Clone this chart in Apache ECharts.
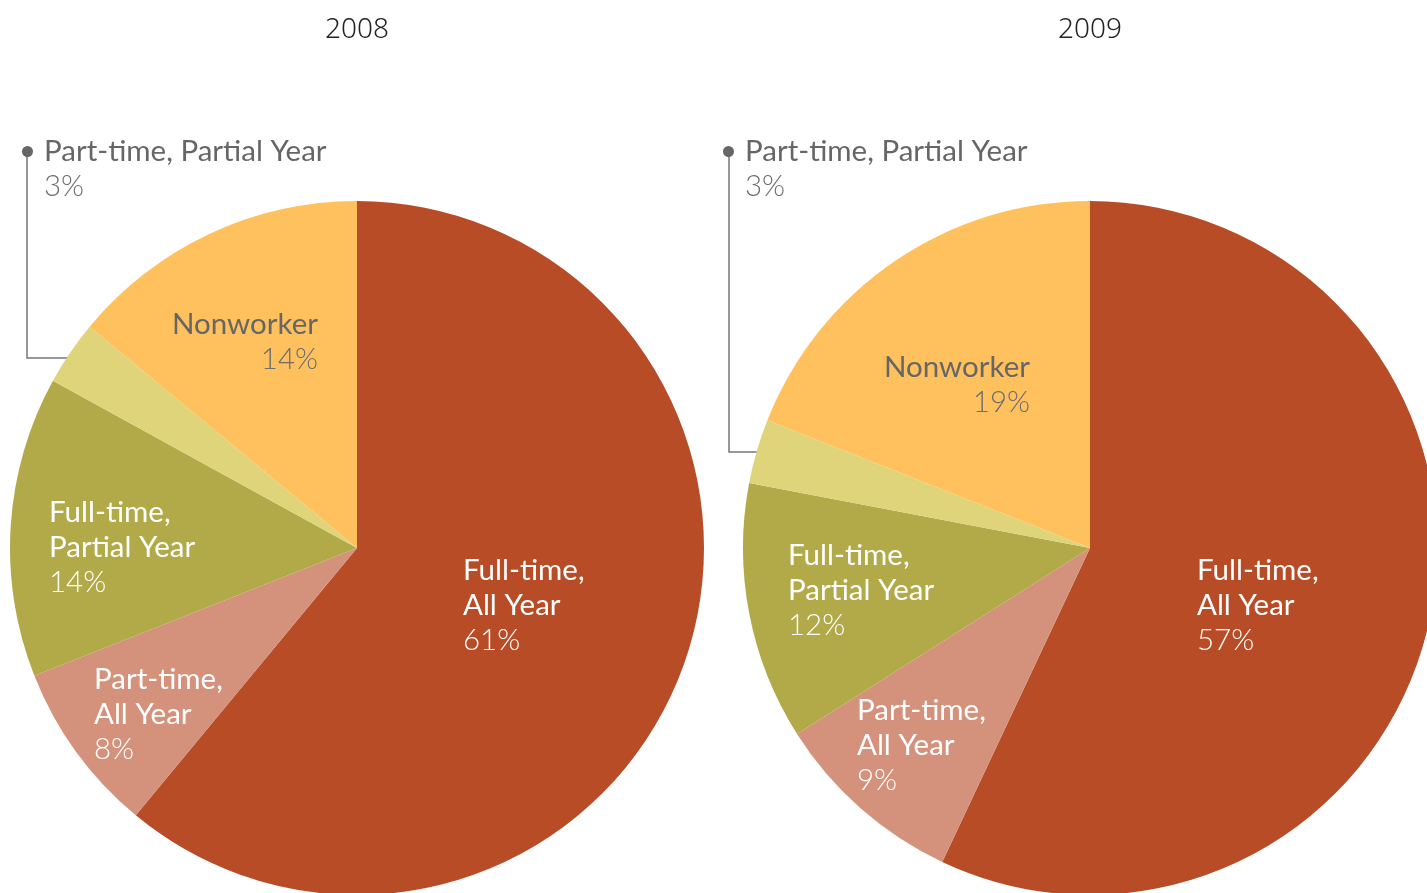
<!DOCTYPE html>
<html>
<head>
<meta charset="utf-8">
<script src="https://cdn.jsdelivr.net/npm/echarts@6/dist/echarts.min.js"></script>
<style>
  html, body { margin: 0; padding: 0; background: #fff; }
  #chart { width: 1427px; height: 893px; }
</style>
</head>
<body>
<div id="chart"></div>
<script>
// data
const years = ['2008', '2009'];
const categories = ['Full-time, All Year', 'Part-time, All Year', 'Full-time, Partial Year', 'Part-time, Partial Year', 'Nonworker'];
const values2008 = [61, 8, 14, 3, 14];
const values2009 = [57, 9, 12, 3, 19];

const colors = ['#b84c27', '#d4927c', '#b2a948', '#e0d47a', '#fec15d'];
const darkText = [false, false, false, true, true];

const FONT = 'Lato';
const FS = 29.5;
const CY = 548;
const R = 347;

// label placement, relative to each pie's centre
const place2008 = [
    { dx: 106, dy: 57, align: 'left', va: 'middle' },
    { dx: -263, dy: 166, align: 'left', va: 'middle' },
    { dx: -308, dy: -1, align: 'left', va: 'middle' },
    { dx: -335, dy: -414, align: 'left', va: 'top', line: [[-271, -190], [-330, -190], [-330, -396]] },
    { dx: -39, dy: -206, align: 'right', va: 'middle' }
];
const place2009 = [
    { dx: 107, dy: 57, align: 'left', va: 'middle' },
    { dx: -233, dy: 197, align: 'left', va: 'middle' },
    { dx: -302, dy: 42, align: 'left', va: 'middle' },
    { dx: -367, dy: -414, align: 'left', va: 'top', line: [[-313, -96], [-361, -96], [-361, -396]] },
    { dx: -60, dy: -163, align: 'right', va: 'middle' }
];

const rich = {
    nw: { color: '#fff', fontFamily: FONT, fontSize: FS, lineHeight: 35 },
    pw: { color: '#fff', fontFamily: FONT, fontSize: FS, lineHeight: 35, fontWeight: 300 },
    ng: { color: '#666', fontFamily: FONT, fontSize: FS, lineHeight: 35 },
    pg: { color: '#6e6e6e', fontFamily: FONT, fontSize: FS, lineHeight: 35, fontWeight: 300 },
    d: { width: 11, height: 11, borderRadius: 5.5, backgroundColor: '#666', fontSize: 1 },
    g: { width: 11, fontSize: 1 },
    g2: { width: 22, fontSize: 1 }
};

function labelText(p) {
    if (p.dataIndex === 3) {
        return '{d| }{g| }{ng|' + p.name + '}\n{g2| }{pg|' + p.value + '%}';
    }
    const k = darkText[p.dataIndex] ? 'g' : 'w';
    return '{n' + k + '|' + p.name.replace(', ', ',\n') + '}\n{p' + k + '|' + p.value + '%}';
}

function makeSeries(values, cx, place) {
    return {
        type: 'pie',
        center: [cx, CY],
        radius: R,
        startAngle: 90,
        clockwise: true,
        avoidLabelOverlap: false,
        silent: true,
        label: { show: true, position: 'inside', formatter: labelText, rich: rich },
        labelLine: { show: false },
        data: categories.map((name, i) => ({
            name: name,
            value: values[i],
            itemStyle: { color: colors[i] },
            label: i === 3 ? { position: 'outside' } : {},
            labelLine: i === 3 ? { show: true, lineStyle: { color: '#777', width: 1.5 } } : { show: false }
        })),
        labelLayout: function (p) {
            const o = place[p.dataIndex];
            const res = { x: cx + o.dx, y: CY + o.dy, align: o.align, verticalAlign: o.va };
            if (o.line) res.labelLinePoints = o.line.map(pt => [cx + pt[0], CY + pt[1]]);
            return res;
        }
    };
}

const titleStyle = { color: '#222', fontFamily: 'Noto Sans', fontSize: 28, fontWeight: 300 };

const chart = echarts.init(document.getElementById('chart'));
chart.setOption({
    animation: false,
    backgroundColor: '#fff',
    title: [
        { text: years[0], left: 352, top: 11, textAlign: 'center', textStyle: titleStyle },
        { text: years[1], left: 1085, top: 11, textAlign: 'center', textStyle: titleStyle }
    ],
    series: [
        makeSeries(values2008, 357, place2008),
        makeSeries(values2009, 1090, place2009)
    ]
});
</script>
</body>
</html>
